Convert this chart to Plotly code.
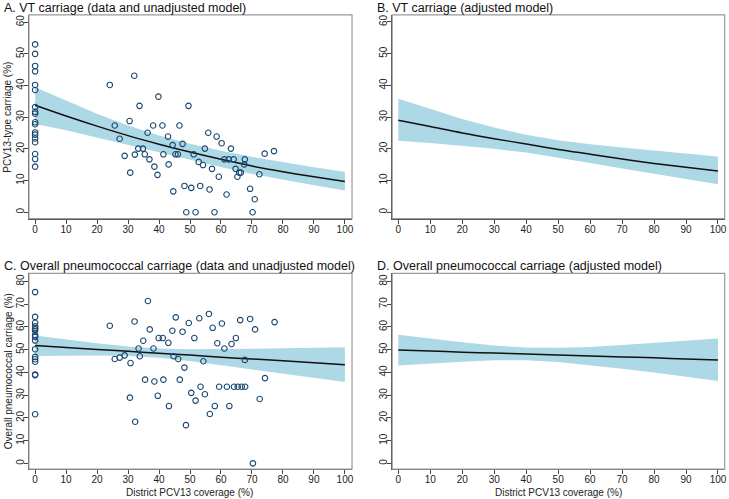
import plotly.graph_objects as go

# ---------------- data ----------------
grid = [0, 10, 20, 30, 40, 50, 60, 70, 80, 90, 100]

# Panel A: VT carriage, data + unadjusted model
a_x_zero = [0] * 18
a_y_zero = [53.0, 50.0, 46.2, 44.5, 40.2, 38.6, 33.2, 31.7, 31.1, 28.4, 27.8, 25.2, 24.5, 23.3, 22.1, 18.4, 16.8, 14.4]
a_x = [24.1, 25.7, 27.3, 28.9, 30.5, 30.7, 32.0, 32.2, 33.3, 33.7, 34.8, 35.4, 36.3, 36.9, 38.1, 38.5,
       39.5, 39.8, 41.1, 41.4, 42.9, 43.1, 44.4, 44.6, 45.3, 46.1, 46.6, 47.6, 48.2, 48.8, 49.5, 50.4,
       51.2, 51.8, 52.8, 53.3, 54.2, 54.8, 55.9, 56.3, 57.1, 57.9, 58.6, 59.3, 60.2, 61.1, 61.8, 62.5,
       63.2, 64.1, 64.7, 65.3, 65.9, 66.4, 67.5, 67.7, 69.4, 70.2, 70.9, 72.4, 74.1, 77.1]
a_y = [40.2, 27.4, 23.2, 17.8, 28.8, 12.5, 43.1, 18.2, 20.1, 33.6, 20.1, 18.3, 25.1, 16.7, 27.4, 14.4,
       11.8, 36.5, 27.4, 18.3, 23.9, 15.1, 21.2, 6.6, 18.3, 18.3, 27.4, 21.6, 8.3, 0.0, 33.6, 7.7,
       18.3, 0.0, 15.9, 8.3, 14.9, 20.1, 25.1, 7.2, 13.7, 0.0, 23.9, 11.2, 21.8, 16.7, 5.6, 16.7,
       20.1, 16.7, 13.7, 11.2, 12.5, 12.5, 15.1, 16.7, 7.4, 0.0, 4.1, 12.0, 18.5, 19.3]
a_fit = [33.8, 30.4, 27.2, 24.2, 21.5, 19.0, 16.7, 14.6, 12.8, 11.2, 9.7]
a_lo = [27.9, 25.9, 23.6, 21.3, 19.0, 16.6, 14.3, 12.1, 10.2, 8.5, 6.9]
a_hi = [39.5, 35.2, 31.1, 27.4, 24.2, 21.6, 19.4, 17.5, 15.8, 14.2, 12.8]

# Panel B: VT carriage, adjusted model
b_fit = [29.0, 27.0, 25.0, 23.2, 21.5, 19.8, 18.3, 16.8, 15.4, 14.2, 13.0]
b_lo = [22.5, 21.8, 21.0, 20.0, 18.8, 17.2, 15.5, 13.8, 12.1, 10.4, 8.8]
b_hi = [35.8, 32.5, 29.4, 26.7, 24.4, 22.7, 21.4, 20.4, 19.5, 18.6, 17.6]

# Panel C: overall carriage, data + unadjusted model
c_x_zero = [0] * 17
c_y_zero = [75.3, 64.4, 61.8, 60.3, 59.5, 59.0, 58.3, 56.4, 55.6, 54.0, 50.2, 46.8, 45.8, 44.7, 39.1, 38.8, 21.6]
c_x = [24.1, 25.7, 27.3, 28.9, 30.6, 30.8, 32.1, 32.3, 33.4, 33.8, 34.9, 35.5, 36.4, 37.0, 38.2, 38.5,
       39.6, 39.9, 41.2, 41.4, 43.0, 43.2, 44.3, 44.7, 45.4, 46.2, 46.7, 47.6, 48.2, 48.7, 49.6, 50.4,
       51.4, 51.8, 53.0, 53.4, 54.3, 54.8, 56.1, 56.4, 57.3, 58.0, 58.8, 59.4, 60.3, 61.1, 61.9, 62.7,
       63.4, 64.2, 64.8, 65.4, 66.2, 66.7, 67.8, 67.7, 69.4, 70.3, 71.0, 72.5, 74.2, 77.3]
c_y = [60.5, 45.9, 46.5, 47.5, 28.9, 44.1, 62.4, 18.3, 50.5, 47.1, 53.9, 36.8, 71.4, 58.9, 50.5, 36.0,
       29.7, 55.1, 55.1, 36.8, 53.0, 25.2, 58.3, 47.1, 64.2, 45.9, 36.8, 57.9, 42.1, 16.8, 61.7, 31.0,
       55.1, 27.6, 63.8, 33.7, 44.9, 30.4, 65.7, 21.7, 59.6, 25.2, 52.8, 33.7, 61.5, 50.5, 33.7, 25.2,
       52.5, 33.7, 55.1, 33.7, 63.0, 33.7, 33.7, 45.5, 63.5, 0.0, 58.9, 28.3, 37.5, 62.1]
c_fit = [51.8, 50.9, 50.1, 49.3, 48.4, 47.6, 46.7, 45.9, 45.1, 44.2, 43.4]
c_lo = [47.2, 47.3, 47.4, 47.2, 46.4, 45.0, 43.3, 41.5, 39.6, 37.7, 35.8]
c_hi = [56.2, 54.4, 52.8, 51.4, 50.5, 50.2, 50.2, 50.4, 50.6, 50.9, 51.1]

# Panel D: overall carriage, adjusted model
d_fit = [49.8, 49.4, 48.9, 48.5, 48.1, 47.7, 47.2, 46.8, 46.4, 45.9, 45.5]
d_lo = [43.0, 43.9, 44.7, 45.3, 45.3, 44.6, 43.2, 41.6, 39.9, 38.2, 36.2]
d_hi = [56.5, 54.8, 53.2, 51.8, 50.9, 50.8, 51.2, 52.0, 52.9, 53.9, 54.9]

titles = ["A. VT carriage (data and unadjusted model)",
          "B. VT carriage (adjusted model)",
          "C. Overall pneumococcal carriage (data and unadjusted model)",
          "D. Overall pneumococcal carriage (adjusted model)"]
x_title = "District PCV13 coverage (%)"
y_title_top = "PCV13-type carriage (%)"
y_title_bottom = "Overall pneumococcal carriage (%)"
x_ticks = [0, 10, 20, 30, 40, 50, 60, 70, 80, 90, 100]
y_ticks_top = [0, 10, 20, 30, 40, 50, 60]
y_ticks_bottom = [0, 10, 20, 30, 40, 50, 60, 70, 80]

# ---------------- style ----------------
BAND = "rgb(173,216,230)"
NAVY = "#1a476f"
FONT = "Liberation Sans, Arial, sans-serif"
W, H = 729, 499

fig = go.Figure()


def add_panel(idx, fit, lo, hi, px=None):
    xa = "x" if idx == 1 else f"x{idx}"
    ya = "y" if idx == 1 else f"y{idx}"
    fig.add_trace(go.Scatter(x=grid + grid[::-1], y=hi + lo[::-1], fill="toself",
                             fillcolor=BAND, line=dict(width=0),
                             mode="lines", hoverinfo="skip", showlegend=False,
                             xaxis=xa, yaxis=ya))
    fig.add_trace(go.Scatter(x=grid, y=fit, mode="lines",
                             line=dict(color="#111111", width=1.5, shape="spline"),
                             showlegend=False, xaxis=xa, yaxis=ya))
    if px is not None:
        for xs, ys in px:
            fig.add_trace(go.Scatter(x=xs, y=ys, mode="markers",
                                     marker=dict(symbol="circle-open", size=5.5, color=NAVY,
                                                 line=dict(width=1.1, color=NAVY)),
                                     showlegend=False, xaxis=xa, yaxis=ya))


add_panel(1, a_fit, a_lo, a_hi, [(a_x_zero, a_y_zero), (a_x, a_y)])
add_panel(2, b_fit, b_lo, b_hi)
add_panel(3, c_fit, c_lo, c_hi, [(c_x_zero, c_y_zero), (c_x, c_y)])
add_panel(4, d_fit, d_lo, d_hi)

xdom_left = [29 / W, 353 / W]
xdom_right = [393.3 / W, 726.7 / W]
ydom_top = [1 - 218 / H, 1 - 14 / H]
ydom_bot = [1 - 469 / H, 1 - 273 / H]

tickfont = dict(family=FONT, size=10, color="#222222")
common_axis = dict(showgrid=False, zeroline=False, showline=True, linecolor="#444444",
                   linewidth=1, ticks="outside", ticklen=4, tickcolor="#444444",
                   tickfont=tickfont)

layout_axes = {}
panels = [
    (1, xdom_left, ydom_top, [-2.0, 102.3], [-2.0, 62.3], y_ticks_top),
    (2, xdom_right, ydom_top, [-1.9, 102.1], [-2.0, 62.2], y_ticks_top),
    (3, xdom_left, ydom_bot, [-2.0, 102.3], [-2.5, 83.5], y_ticks_bottom),
    (4, xdom_right, ydom_bot, [-1.9, 102.1], [-2.5, 83.5], y_ticks_bottom),
]
for idx, xd, yd, xr, yr, yt in panels:
    xk = "xaxis" if idx == 1 else f"xaxis{idx}"
    yk = "yaxis" if idx == 1 else f"yaxis{idx}"
    xa = "x" if idx == 1 else f"x{idx}"
    ya = "y" if idx == 1 else f"y{idx}"
    layout_axes[xk] = dict(domain=xd, anchor=ya, range=xr, tickvals=x_ticks,
                           ticklabelstandoff=-3, **common_axis)
    layout_axes[yk] = dict(domain=yd, anchor=xa, range=yr, tickvals=yt, tickangle=-90,
                           ticklabelstandoff=-4, **common_axis)

fig.update_layout(width=W, height=H, margin=dict(l=0, r=0, t=0, b=0),
                  paper_bgcolor="white", plot_bgcolor="white", showlegend=False,
                  font=dict(family=FONT), **layout_axes)

# gray frame around each plot region
for idx in range(1, 5):
    xa = "x" if idx == 1 else f"x{idx}"
    ya = "y" if idx == 1 else f"y{idx}"
    fig.add_shape(type="rect", xref=f"{xa} domain", yref=f"{ya} domain",
                  x0=0, x1=1, y0=0, y1=1, line=dict(color="#9a9a9a", width=1.2), layer="above")

# panel titles
title_pos = [(2 / W, 1 - 7 / H), (376 / W, 1 - 7 / H), (2 / W, 1 - 266 / H), (376 / W, 1 - 266 / H)]
for t, (tx, ty) in zip(titles, title_pos):
    fig.add_annotation(text=t, x=tx, y=ty, xref="paper", yref="paper", xanchor="left",
                       yanchor="middle", showarrow=False,
                       font=dict(family=FONT, size=12.5, color="#111111"))

# axis titles
axfont = dict(family=FONT, size=10, color="#222222")
fig.add_annotation(text=y_title_top, x=8 / W, y=1 - 116 / H, xref="paper", yref="paper",
                   xanchor="center", yanchor="middle",
                   textangle=-90, showarrow=False, font=axfont)
fig.add_annotation(text=y_title_bottom, x=8 / W, y=1 - 371 / H, xref="paper", yref="paper",
                   xanchor="center", yanchor="middle",
                   textangle=-90, showarrow=False, font=axfont)
fig.add_annotation(text=x_title, x=190 / W, y=1 - 492 / H, xref="paper", yref="paper",
                   xanchor="center", yanchor="middle", showarrow=False, font=axfont)
fig.add_annotation(text=x_title, x=560 / W, y=1 - 492 / H, xref="paper", yref="paper",
                   xanchor="center", yanchor="middle", showarrow=False, font=axfont)

fig.write_html("out.html", config={"displayModeBar": False},
               post_script="document.body.style.margin='0';document.body.style.padding='0';")
